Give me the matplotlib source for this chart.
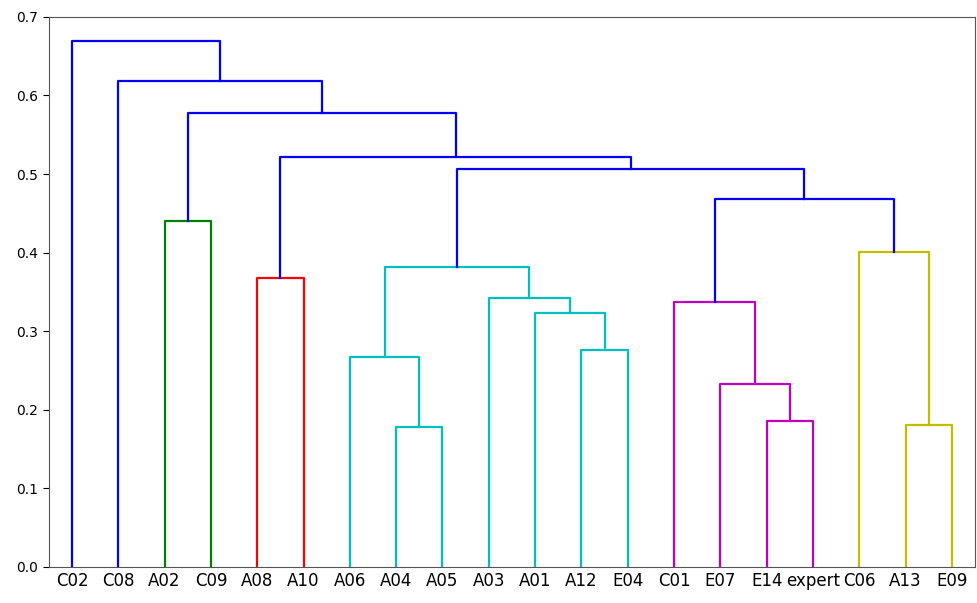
import matplotlib
matplotlib.use("Agg")
import matplotlib.pyplot as plt

# leaf labels in dendrogram order
leaves = ["C02", "C08", "A02", "C09", "A08", "A10", "A06", "A04", "A05", "A03",
          "A01", "A12", "E04", "C01", "E07", "E14", "expert", "C06", "A13", "E09"]

# merges: (left id, right id, height, link colour); leaf ids 0..19, new clusters from 20
merge_left = [7, 6, 11, 10, 9, 21, 15, 14, 13, 18, 17, 28, 25, 4, 33, 2, 35, 1, 0]
merge_right = [8, 20, 12, 22, 23, 24, 16, 26, 27, 19, 29, 30, 31, 5, 32, 3, 34, 36, 37]
merge_height = [0.178, 0.267, 0.276, 0.323, 0.342, 0.382, 0.186, 0.233, 0.337,
                0.181, 0.401, 0.468, 0.507, 0.367, 0.522, 0.440, 0.578, 0.618, 0.669]
merge_color = ["c", "c", "c", "c", "c", "c", "m", "m", "m", "y", "y",
               "b", "b", "r", "b", "g", "b", "b", "b"]

fig = plt.figure(figsize=(9.77, 6.03), dpi=100)
ax = fig.add_axes([0.050, 0.060, 0.948, 0.912])

xpos = [5 + 10 * i for i in range(len(leaves))]
ypos = [0.0] * len(leaves)
for a, b, h, col in zip(merge_left, merge_right, merge_height, merge_color):
    xa, xb = xpos[a], xpos[b]
    ax.plot([xa, xa, xb, xb], [ypos[a], h, h, ypos[b]], color=col, lw=1.6)
    xpos.append((xa + xb) / 2)
    ypos.append(h)

ax.set_xlim(0, 10 * len(leaves))
ax.set_ylim(0, 0.7)
ax.set_xticks([5 + 10 * i for i in range(len(leaves))])
ax.set_xticklabels(leaves, fontsize=12)
ax.set_yticks([0.0, 0.1, 0.2, 0.3, 0.4, 0.5, 0.6, 0.7])
ax.set_yticklabels(["0.0", "0.1", "0.2", "0.3", "0.4", "0.5", "0.6", "0.7"], fontsize=10)
ax.tick_params(axis="x", length=0, pad=4)
ax.tick_params(axis="y", length=4)
for s in ax.spines.values():
    s.set_color("#555555")

fig.savefig("out.png", dpi=100)
